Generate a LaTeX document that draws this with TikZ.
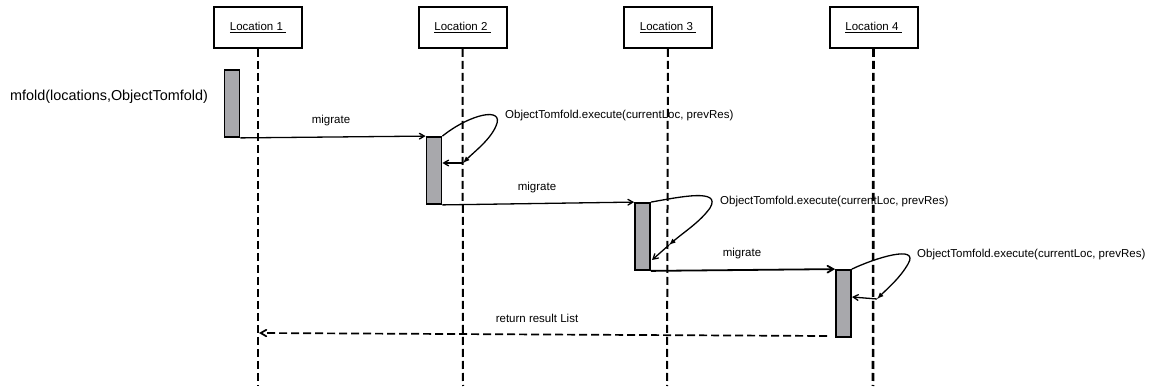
\documentclass[tikz,border=0pt]{standalone}
\usepackage{fontspec}
\setmainfont{Liberation Sans}
\usetikzlibrary{arrows}
\definecolor{bar_grey}{RGB}{168, 168, 172}
\tikzstyle{loc}=[rectangle,draw=black,line width=2pt,inner sep=0pt,
  minimum width=88pt,minimum height=41pt,font=\fontsize{11.5}{13}\selectfont]
\tikzstyle{act}=[rectangle,fill=bar_grey,draw=black,line width=1.8pt,
  inner sep=0pt,minimum width=15pt,minimum height=67pt]
\tikzstyle{life}=[line width=2pt,dash pattern=on 8pt off 4pt]
\tikzstyle{msg}=[->,>=angle 60,line width=1.3pt]
\tikzstyle{self}=[-latex,line width=1.3pt]
\tikzstyle{lbl}=[font=\fontsize{11.5}{13}\selectfont,inner sep=0pt]
\tikzstyle{none}=[]

\begin{document}
\begin{tikzpicture}[x=1pt,y=-1pt]
            \useasboundingbox (0,0) rectangle (1157,387);
            \node [style=loc] (0) at (258, 27.5) {\underline{Location 1\ }};
            \node [style=loc] (1) at (462.5, 27.5) {\underline{Location 2\ }};
            \node [style=loc] (2) at (668, 27.5) {\underline{Location 3\ }};
            \node [style=loc] (3) at (873.5, 27.5) {\underline{Location 4\ }};
            \coordinate (4) at (258, 386);
            \coordinate (5) at (463, 386);
            \coordinate (6) at (667, 386);
            \coordinate (7) at (873, 386);
            \draw [style=life] (0) to (4);
            \draw [style=life] (1) to (5);
            \draw [style=life] (2) to (6);
            \draw [style=life,line width=2.6pt] (3) to (7);
            \node [style=act] (8) at (232, 103.5) {};
            \node [style=act] (9) at (434, 170.5) {};
            \node [style=act] (10) at (642.5, 236.5) {};
            \node [style=act] (11) at (843.5, 303.5) {};
            \node [style=lbl,anchor=west,font=\fontsize{14.4}{16}\selectfont] (12) at (10, 97) {mfold(locations,ObjectTomfold)};
            \draw [style=msg] (8.south east) to (9.north west);
            \draw [style=msg] (9.south east) to (10.north west);
            \draw [style=msg,line width=1.8pt] (10.south east) to (11.north west);
            \node [style=lbl] (13) at (331, 121) {migrate};
            \node [style=lbl] (14) at (537, 188) {migrate};
            \node [style=lbl] (15) at (742, 254) {migrate};
            \coordinate (16) at (463, 163);
            \coordinate (17) at (669, 245);
            \coordinate (18) at (877, 299);
            \coordinate (19) at (652, 260);
            \coordinate (20) at (852, 297);
            \draw [style=self] (9.north east) .. controls (470, 114) and (505, 106) .. (496, 126) .. controls (490, 140) and (474, 152) .. (16);
            \draw [style=self] (10.north east) .. controls (680, 197) and (722, 188) .. (710, 208) .. controls (700, 222) and (684, 232) .. (17);
            \draw [style=self] (11.north east) .. controls (875, 258) and (920, 244) .. (908, 264) .. controls (900, 278) and (888, 288) .. (18);
            \draw [style=msg] (16) to (9.east |- 16);
            \draw [style=msg] (17) to (19);
            \draw [style=msg] (18) to (20);
            \node [style=lbl,anchor=west] (21) at (505, 116) {ObjectTomfold.execute(currentLoc, prevRes)};
            \node [style=lbl,anchor=west] (22) at (720, 202) {ObjectTomfold.execute(currentLoc, prevRes)};
            \node [style=lbl,anchor=west] (23) at (917, 255) {ObjectTomfold.execute(currentLoc, prevRes)};
            \coordinate (24) at (827, 336);
            \coordinate (25) at (259, 333);
            \draw [style=msg,line width=1.7pt,dash pattern=on 8pt off 4pt] (24) to (25);
            \node [style=lbl] (26) at (537, 318) {return result List};
\end{tikzpicture}
\end{document}
